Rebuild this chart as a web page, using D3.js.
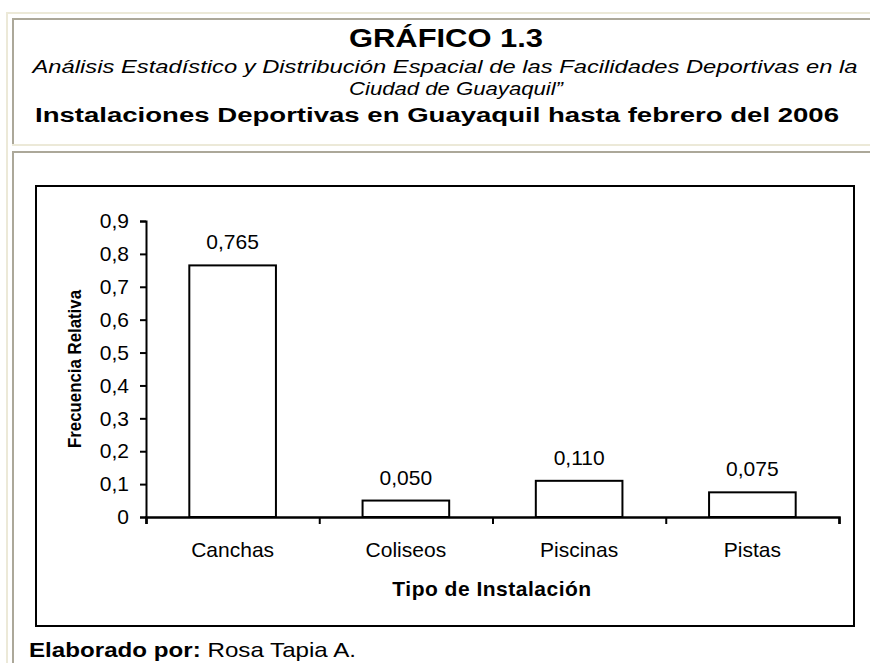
<!DOCTYPE html>
<html>
<head>
<meta charset="utf-8">
<script src="https://cdnjs.cloudflare.com/ajax/libs/d3/7.8.5/d3.min.js"></script>
<style>
body { margin: 0; background: #fff; }
svg { display: block; font-family: "Liberation Sans", Arial, sans-serif; }
</style>
</head>
<body>
<svg id="chart" width="870" height="663"></svg>
<script>
// data
var categories = ['Canchas', 'Coliseos', 'Piscinas', 'Pistas'];
var values = [0.765, 0.050, 0.110, 0.075];
var valueLabels = ['0,765', '0,050', '0,110', '0,075'];
var yTicks = [0, 0.1, 0.2, 0.3, 0.4, 0.5, 0.6, 0.7, 0.8, 0.9];
var yTickLabels = ['0', '0,1', '0,2', '0,3', '0,4', '0,5', '0,6', '0,7', '0,8', '0,9'];

var svg = d3.select('#chart');
var light = '#ece9d8', dark = '#aca899';

// table-like frame of the page
svg.append('rect').attr('x', 6).attr('y', 12).attr('width', 2).attr('height', 651).attr('fill', light);
svg.append('rect').attr('x', 6).attr('y', 12).attr('width', 864).attr('height', 2).attr('fill', light);
svg.append('rect').attr('x', 12).attr('y', 18).attr('width', 2).attr('height', 126).attr('fill', dark);
svg.append('rect').attr('x', 12).attr('y', 18).attr('width', 858).attr('height', 2).attr('fill', dark);
svg.append('rect').attr('x', 12).attr('y', 144).attr('width', 858).attr('height', 2).attr('fill', light);
svg.append('rect').attr('x', 12).attr('y', 151).attr('width', 2).attr('height', 512).attr('fill', dark);
svg.append('rect').attr('x', 12).attr('y', 151).attr('width', 858).attr('height', 2).attr('fill', dark);

// titles (the header text in the picture is drawn wider than the font, so stretch it)
function header(x, y, size, len, txt) {
    return svg.append('text').attr('x', x - len / 2).attr('y', y)
        .attr('textLength', len).attr('lengthAdjust', 'spacingAndGlyphs')
        .style('font-size', size + 'px').text(txt);
}
header(446, 47, 26, 194, 'GRÁFICO 1.3').style('font-weight', 'bold');
header(445, 73, 19, 825, 'Análisis Estadístico y Distribución Espacial de las Facilidades Deportivas en la')
    .style('font-style', 'italic');
header(456, 95, 19, 214, 'Ciudad de Guayaquil\u201D').style('font-style', 'italic');
header(437, 122, 20, 804, 'Instalaciones Deportivas en Guayaquil hasta febrero del 2006')
    .style('font-weight', 'bold');

// chart frame
svg.append('rect').attr('x', 36).attr('y', 186).attr('width', 818).attr('height', 440)
    .attr('fill', '#fff').attr('stroke', '#000').attr('stroke-width', 2);

var ys = d3.scaleLinear().domain([0, 0.9]).range([517, 221]);
var xs = d3.scaleBand().domain(categories).range([146, 839]).paddingInner(0.5).paddingOuter(0.25);
var xticks = d3.scaleLinear().domain([0, categories.length]).range([146, 839]);

var yAxis = svg.append('g').attr('transform', 'translate(146,0)')
    .call(d3.axisLeft(ys).tickValues(yTicks).tickSize(6).tickPadding(11)
        .tickFormat(function (d, i) { return yTickLabels[i]; }));
yAxis.selectAll('text').style('font-size', '21px').attr('fill', '#000').style('font-family', 'inherit');
yAxis.selectAll('line').attr('stroke-width', 2);
yAxis.select('.domain').attr('stroke-width', 2);

var xTickAxis = svg.append('g').attr('transform', 'translate(0,517)')
    .call(d3.axisBottom(xticks).ticks(categories.length).tickSize(7).tickFormat(''));
xTickAxis.selectAll('line').attr('stroke-width', 2);
xTickAxis.select('.domain').attr('stroke-width', 2.5);

var xAxis = svg.append('g').attr('transform', 'translate(0,517)')
    .call(d3.axisBottom(xs).tickSize(0).tickPadding(25));
xAxis.select('.domain').remove();
xAxis.selectAll('text').style('font-size', '21px').attr('fill', '#000').style('font-family', 'inherit');

// bars
svg.selectAll('rect.bar').data(values).enter().append('rect')
    .attr('class', 'bar')
    .attr('x', function (d, i) { return xs(categories[i]); })
    .attr('width', xs.bandwidth())
    .attr('y', function (d) { return ys(d); })
    .attr('height', function (d) { return ys(0) - ys(d); })
    .attr('fill', '#fff').attr('stroke', '#000').attr('stroke-width', 2);

svg.selectAll('text.val').data(values).enter().append('text')
    .attr('class', 'val')
    .attr('x', function (d, i) { return xs(categories[i]) + xs.bandwidth() / 2; })
    .attr('y', function (d) { return ys(d) - 16; })
    .attr('text-anchor', 'middle')
    .style('font-size', '21px')
    .text(function (d, i) { return valueLabels[i]; });

// axis titles
svg.append('text').attr('transform', 'translate(81,369) rotate(-90)')
    .attr('x', -79).attr('textLength', 158).attr('lengthAdjust', 'spacingAndGlyphs')
    .style('font-size', '19px').style('font-weight', 'bold')
    .text('Frecuencia Relativa');
svg.append('text').attr('x', 492).attr('y', 596).attr('text-anchor', 'middle')
    .style('font-size', '21px').style('font-weight', 'bold').style('letter-spacing', '0.5px')
    .text('Tipo de Instalación');

// footer
var foot = svg.append('text').attr('x', 29).attr('y', 657).style('font-size', '21px')
    .attr('textLength', 327).attr('lengthAdjust', 'spacingAndGlyphs');
foot.append('tspan').style('font-weight', 'bold').text('Elaborado por: ');
foot.append('tspan').text('Rosa Tapia A.');
</script>
</body>
</html>
